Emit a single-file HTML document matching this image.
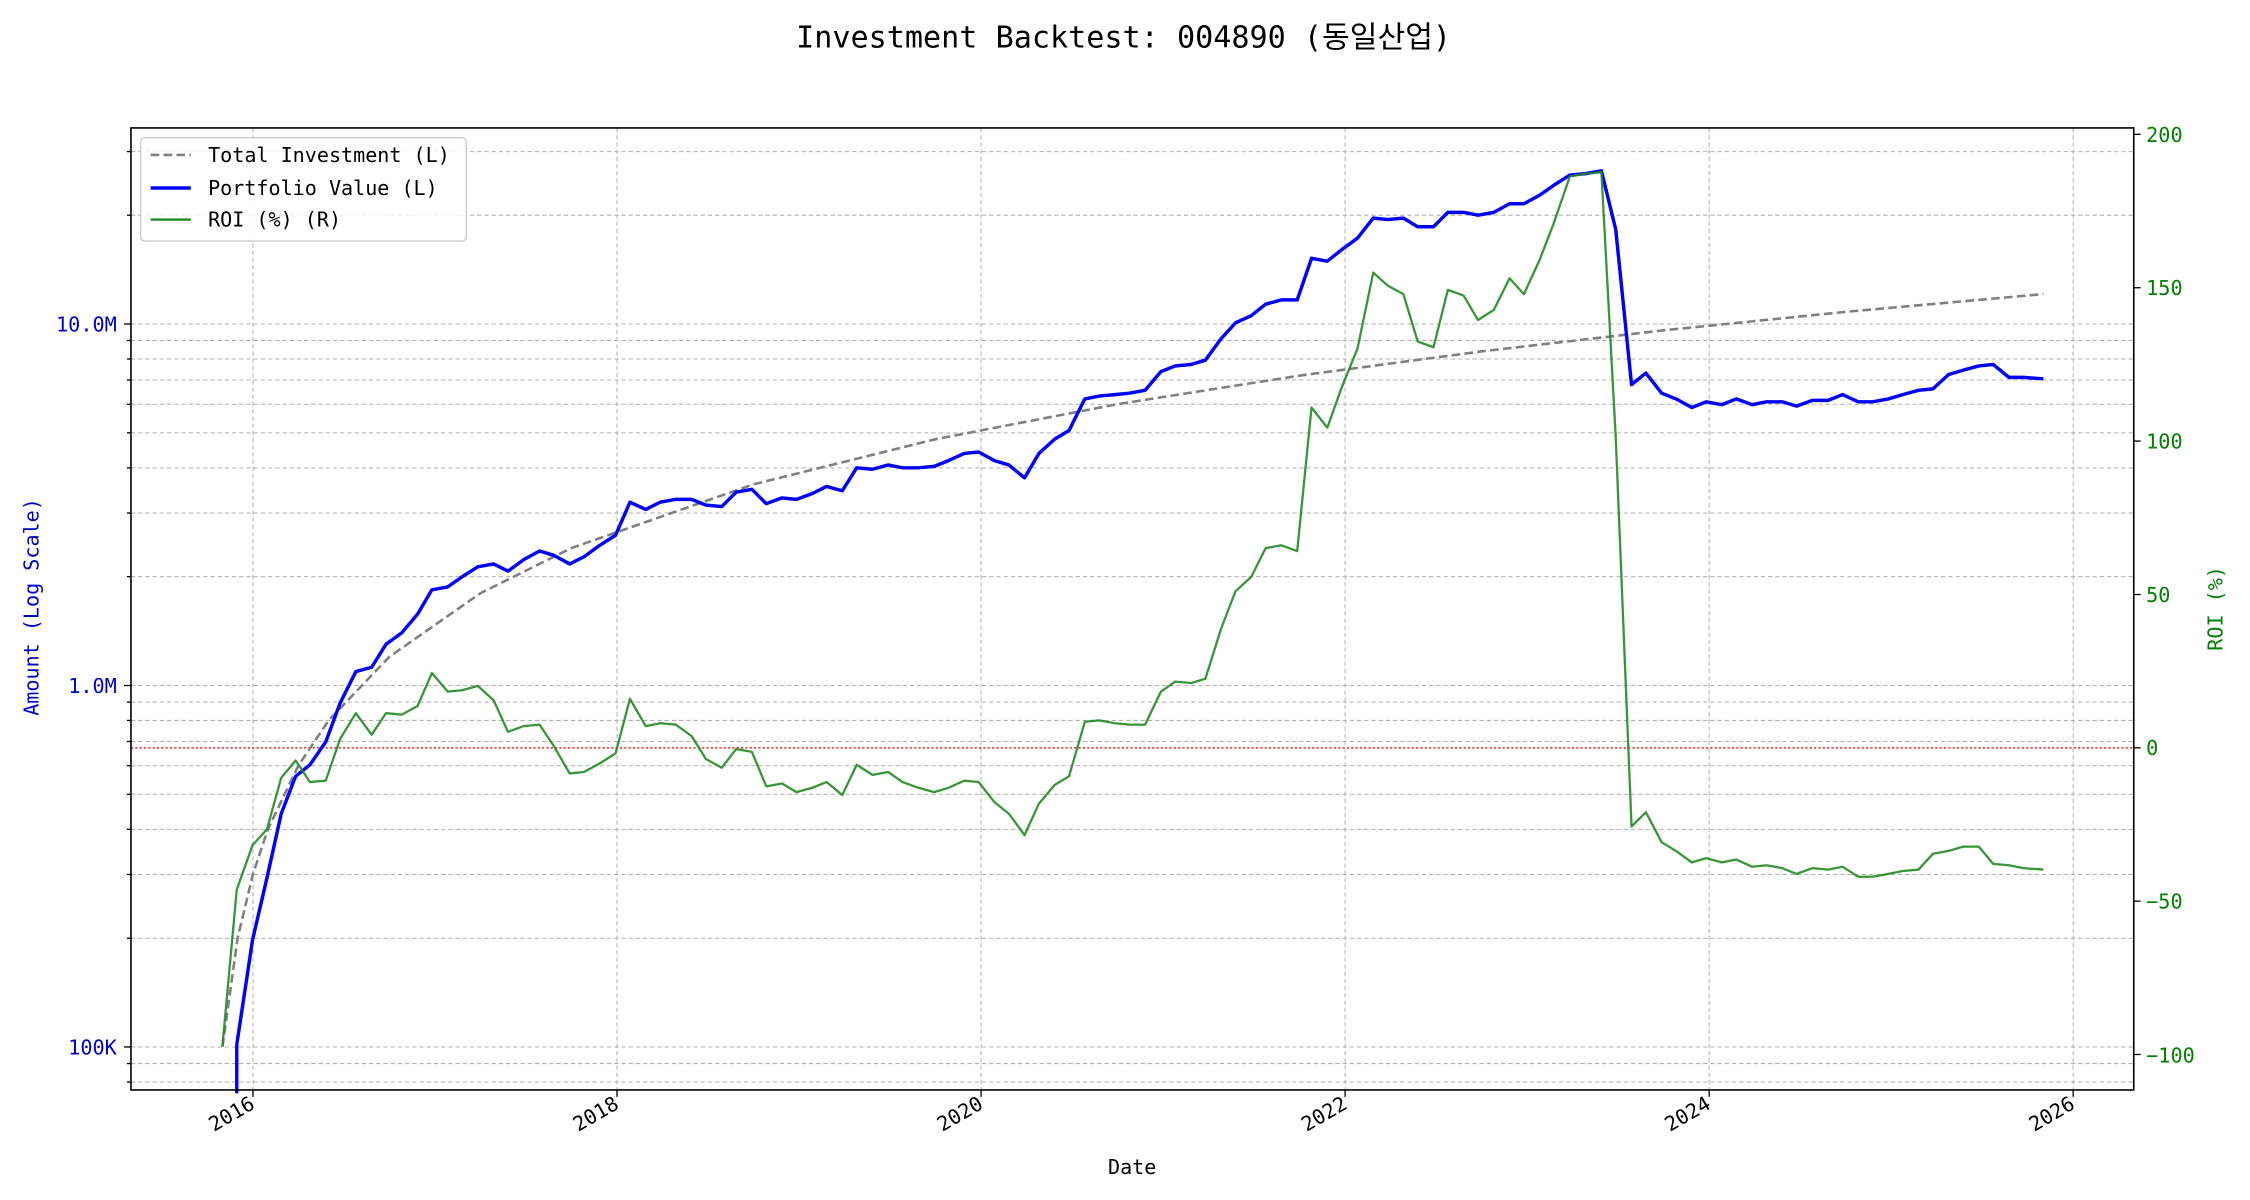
<!DOCTYPE html>
<html><head><meta charset="utf-8"><style>
html,body{margin:0;padding:0;background:#fff;}
svg{display:block;}
text{font-family:"DejaVu Sans Mono","Liberation Mono","Noto Sans CJK KR",monospace;}
</style></head><body>
<svg width="2250" height="1200" viewBox="0 0 1560 832" xmlns="http://www.w3.org/2000/svg">
<rect width="1560" height="832" fill="#fff"/>
<g stroke="#b0b0b0" stroke-width="0.7" stroke-dasharray="3,2" fill="none">
<line x1="175.4" y1="88.7" x2="175.4" y2="755.7"/><line x1="427.8" y1="88.7" x2="427.8" y2="755.7"/><line x1="680.2" y1="88.7" x2="680.2" y2="755.7"/><line x1="932.6" y1="88.7" x2="932.6" y2="755.7"/><line x1="1185" y1="88.7" x2="1185" y2="755.7"/><line x1="1437.4" y1="88.7" x2="1437.4" y2="755.7"/>
<line x1="90.8" x2="1479.4" y1="750.2" y2="750.2"/><line x1="90.8" x2="1479.4" y1="737.4" y2="737.4"/><line x1="90.8" x2="1479.4" y1="725.9" y2="725.9"/><line x1="90.8" x2="1479.4" y1="650.5" y2="650.5"/><line x1="90.8" x2="1479.4" y1="606.3" y2="606.3"/><line x1="90.8" x2="1479.4" y1="575" y2="575"/><line x1="90.8" x2="1479.4" y1="550.7" y2="550.7"/><line x1="90.8" x2="1479.4" y1="530.9" y2="530.9"/><line x1="90.8" x2="1479.4" y1="514.1" y2="514.1"/><line x1="90.8" x2="1479.4" y1="499.5" y2="499.5"/><line x1="90.8" x2="1479.4" y1="486.8" y2="486.8"/><line x1="90.8" x2="1479.4" y1="475.3" y2="475.3"/><line x1="90.8" x2="1479.4" y1="399.8" y2="399.8"/><line x1="90.8" x2="1479.4" y1="355.7" y2="355.7"/><line x1="90.8" x2="1479.4" y1="324.4" y2="324.4"/><line x1="90.8" x2="1479.4" y1="300.1" y2="300.1"/><line x1="90.8" x2="1479.4" y1="280.3" y2="280.3"/><line x1="90.8" x2="1479.4" y1="263.5" y2="263.5"/><line x1="90.8" x2="1479.4" y1="248.9" y2="248.9"/><line x1="90.8" x2="1479.4" y1="236.1" y2="236.1"/><line x1="90.8" x2="1479.4" y1="224.6" y2="224.6"/><line x1="90.8" x2="1479.4" y1="149.2" y2="149.2"/><line x1="90.8" x2="1479.4" y1="105.1" y2="105.1"/>
</g>
<line x1="90.8" x2="1479.4" y1="518.5" y2="518.5" stroke="#d00" stroke-width="0.9" stroke-dasharray="1.5,1.5"/>
<g transform="scale(0.9949,1)">
<polyline fill="none" stroke="#808080" stroke-width="1.8" stroke-dasharray="6,3" points="155,725.9 165.6,650.4 176.2,606.3 186.7,575 207.9,530.9 229,499.5 271.3,455.4 334.8,411.3 398.2,380 525.1,335.8 652,304.5 778.9,280.2 905.8,260.4 1032.7,243.6 1159.6,229 1286.5,216.2 1424,203.9"/>
</g>
<g transform="scale(0.9949)">
<polyline fill="none" stroke="#0000ff" stroke-width="2.4" stroke-linejoin="round" points="165,762 165,728 176,655 186,612 196,567 206,541 216,533 227,517 237,490 248,468 259,465 269,449 280,441 291,428 301,411 312,409 322,402 333,395 344,393 354,398 365,390 376,384 386,387 397,393 407,388 418,380 429,373 439,350 450,355 460,350 471,348 482,348 492,352 503,353 513,343 524,341 534,351 545,347 555,348 566,344 576,339 587,342 597,326 608,327 619,324 629,326 640,326 651,325 661,321 672,316 682,315 693,321 703,324 714,333 724,316 735,306 745,300 756,278 766,276 777,275 787,274 798,272 809,259 819,255 830,254 840,251 851,236 861,225 872,220 882,212 893,209 904,209 914,180 925,182 935,174 946,166 957,152 967,153 978,152 988,158 999,158 1009,148 1020,148 1030,150 1041,148 1052,142 1062,142 1073,136 1083,129 1094,122 1105,121 1116,119 1126,160 1137,268 1147,260 1158,274 1168,278 1179,284 1189,280 1200,282 1210,278 1221,282 1231,280 1242,280 1252,283 1263,279 1274,279 1284,275 1295,280 1305,280 1316,278 1326,275 1337,272 1347,271 1358,261 1368,258 1379,255 1389,254 1400,263 1410,263 1424,264"/>
<polyline fill="none" stroke="#228b22" stroke-opacity="0.9" stroke-width="1.6" stroke-linejoin="round" points="155,729 165,620 176,589 186,578 196,542 206,530 216,545 227,544 237,515 248,497 259,512 269,497 280,498 291,492 301,469 312,482 322,481 333,478 344,488 354,510 365,506 376,505 386,520 397,539 407,538 418,532 429,525 439,487 450,506 460,504 471,505 482,513 492,529 503,535 513,522 524,524 534,548 545,546 555,552 566,549 576,545 587,554 597,533 608,540 619,538 629,545 640,549 651,552 661,549 672,544 682,545 693,559 703,567 714,582 724,560 735,547 745,541 756,503 766,502 777,504 787,505 798,505 809,482 819,475 830,476 840,473 851,438 861,412 872,402 882,382 893,380 904,384 914,284 925,298 935,270 946,243 957,190 967,199 978,205 988,238 999,242 1009,202 1020,206 1030,223 1041,216 1052,194 1062,205 1073,181 1083,155 1094,123 1105,121 1116,120 1126,305 1137,576 1147,566 1158,587 1168,593 1179,601 1189,598 1200,601 1210,599 1221,604 1231,603 1242,605 1252,609 1263,605 1274,606 1284,604 1295,611 1305,611 1316,609 1326,607 1337,606 1347,595 1358,593 1368,590 1379,590 1389,602 1400,603 1410,605 1424,606"/>
</g>
<rect x="90.8" y="88.7" width="1388.6" height="667" fill="none" stroke="#000" stroke-width="1.1"/>
<g stroke="#000" stroke-width="0.9">
<line x1="86" x2="90.8" y1="725.9" y2="725.9"/><line x1="86" x2="90.8" y1="475.3" y2="475.3"/><line x1="86" x2="90.8" y1="224.6" y2="224.6"/>
<line x1="88" x2="90.8" y1="750.2" y2="750.2"/><line x1="88" x2="90.8" y1="737.4" y2="737.4"/><line x1="88" x2="90.8" y1="650.5" y2="650.5"/><line x1="88" x2="90.8" y1="606.3" y2="606.3"/><line x1="88" x2="90.8" y1="575" y2="575"/><line x1="88" x2="90.8" y1="550.7" y2="550.7"/><line x1="88" x2="90.8" y1="530.9" y2="530.9"/><line x1="88" x2="90.8" y1="514.1" y2="514.1"/><line x1="88" x2="90.8" y1="499.5" y2="499.5"/><line x1="88" x2="90.8" y1="486.8" y2="486.8"/><line x1="88" x2="90.8" y1="399.8" y2="399.8"/><line x1="88" x2="90.8" y1="355.7" y2="355.7"/><line x1="88" x2="90.8" y1="324.4" y2="324.4"/><line x1="88" x2="90.8" y1="300.1" y2="300.1"/><line x1="88" x2="90.8" y1="280.3" y2="280.3"/><line x1="88" x2="90.8" y1="263.5" y2="263.5"/><line x1="88" x2="90.8" y1="248.9" y2="248.9"/><line x1="88" x2="90.8" y1="236.1" y2="236.1"/><line x1="88" x2="90.8" y1="149.2" y2="149.2"/><line x1="88" x2="90.8" y1="105.1" y2="105.1"/>
<line x1="175.4" x2="175.4" y1="755.7" y2="760.5"/><line x1="427.8" x2="427.8" y1="755.7" y2="760.5"/><line x1="680.2" x2="680.2" y1="755.7" y2="760.5"/><line x1="932.6" x2="932.6" y1="755.7" y2="760.5"/><line x1="1185" x2="1185" y1="755.7" y2="760.5"/><line x1="1437.4" x2="1437.4" y1="755.7" y2="760.5"/>
<line x1="1479.4" x2="1484.2" y1="93.1" y2="93.1"/><line x1="1479.4" x2="1484.2" y1="199.5" y2="199.5"/><line x1="1479.4" x2="1484.2" y1="305.8" y2="305.8"/><line x1="1479.4" x2="1484.2" y1="412.2" y2="412.2"/><line x1="1479.4" x2="1484.2" y1="518.5" y2="518.5"/><line x1="1479.4" x2="1484.2" y1="624.8" y2="624.8"/><line x1="1479.4" x2="1484.2" y1="731.1" y2="731.1"/>
</g>
<g font-size="14" fill="#0000cc" text-anchor="end">
<text x="81" y="230">10.0M</text><text x="81" y="480.5">1.0M</text><text x="81" y="731">100K</text>
</g>
<g font-size="14" fill="#008000">
<text x="1488" y="98.5">200</text><text x="1488" y="204.5">150</text><text x="1488" y="311">100</text><text x="1488" y="417.5">50</text><text x="1488" y="523.5">0</text><text x="1488" y="630">−50</text><text x="1488" y="736.5">−100</text>
</g>
<g font-size="14" fill="#000" text-anchor="end">
<text transform="translate(177.5,768) rotate(-30)">2016</text><text transform="translate(430,768) rotate(-30)">2018</text><text transform="translate(682.5,768) rotate(-30)">2020</text><text transform="translate(935,768) rotate(-30)">2022</text><text transform="translate(1187,768) rotate(-30)">2024</text><text transform="translate(1439.5,768) rotate(-30)">2026</text>
</g>
<g transform="scale(0.9949)">
<text x="783" y="33" font-size="21" text-anchor="middle" fill="#000">Investment Backtest: 004890 (동일산업)</text>
<text x="789" y="818" font-size="14" text-anchor="middle" fill="#000">Date</text>
<text transform="translate(27,423) rotate(-90)" font-size="14" text-anchor="middle" fill="#0000cc">Amount (Log Scale)</text>
<text transform="translate(1549,424) rotate(-90)" font-size="14" text-anchor="middle" fill="#008000">ROI (%)</text>
<rect x="98" y="96" width="227" height="72" rx="3" fill="#fff" fill-opacity="0.85" stroke="#ccc" stroke-width="1"/>
<line x1="105" x2="133" y1="108" y2="108" stroke="#808080" stroke-width="1.8" stroke-dasharray="6,3"/>
<line x1="105" x2="133" y1="131" y2="131" stroke="#0000ff" stroke-width="2.4"/>
<line x1="105" x2="133" y1="153" y2="153" stroke="#228b22" stroke-width="1.6"/>
<g font-size="14" fill="#000">
<text x="145" y="113">Total Investment (L)</text><text x="145" y="136">Portfolio Value (L)</text><text x="145" y="158">ROI (%) (R)</text>
</g>
</g>
</svg>
</body></html>
